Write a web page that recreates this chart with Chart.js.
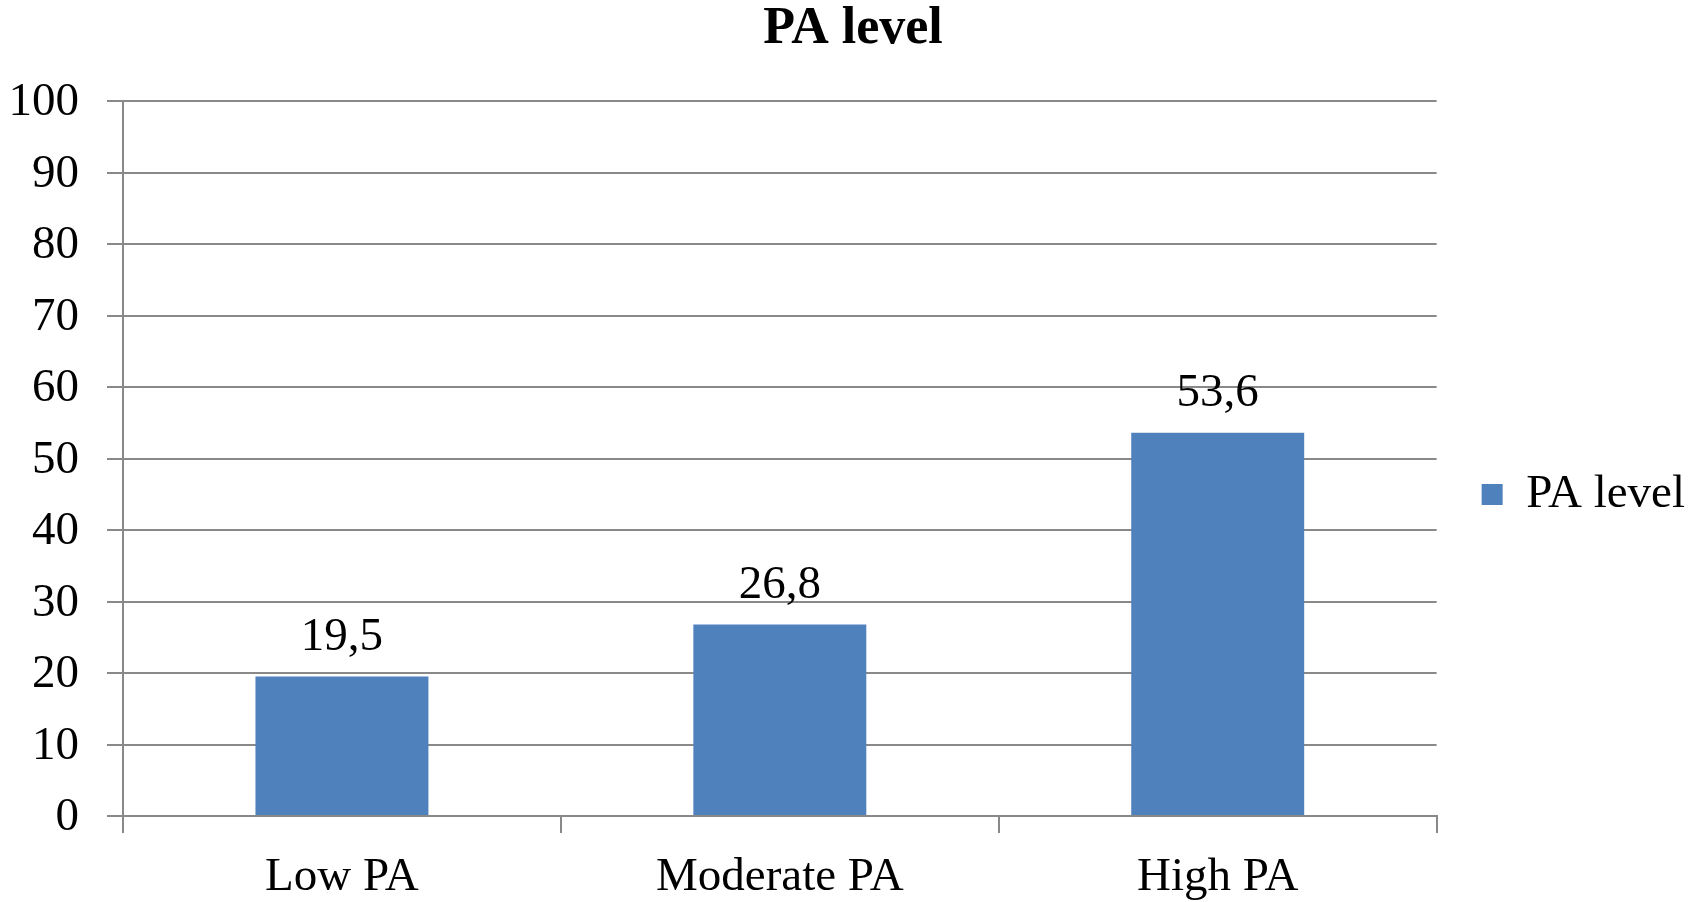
<!DOCTYPE html>
<html>
<head>
<meta charset="utf-8">
<script src="https://cdn.jsdelivr.net/npm/chart.js@4/dist/chart.umd.min.js"></script>
<style>
  html, body { margin: 0; padding: 0; background: #fff; }
  #wrap { width: 1702px; height: 902px; }
</style>
</head>
<body>
<div id="wrap"><canvas id="chart" width="1702" height="902"></canvas></div>
<script>
const categories = ["Low PA", "Moderate PA", "High PA"];
const paLevel = [19.5, 26.8, 53.6];
const seriesName = "PA level";

const FONT = "'Liberation Serif', 'Times New Roman', serif";
const GRID = "#898989";
const TEXT_SIZE = 47;

// value labels above bars, comma as decimal mark
const barValues = {
  id: "barValues",
  afterDatasetsDraw(chart) {
    const ctx = chart.ctx;
    const meta = chart.getDatasetMeta(0);
    ctx.save();
    ctx.font = TEXT_SIZE + "px " + FONT;
    ctx.fillStyle = "#000";
    ctx.textAlign = "center";
    ctx.textBaseline = "middle";
    meta.data.forEach((bar, i) => {
      const txt = String(chart.data.datasets[0].data[i]).replace(".", ",");
      ctx.fillText(txt, bar.x, bar.y - 39);
    });
    ctx.restore();
  }
};

new Chart(document.getElementById("chart"), {
  type: "bar",
  data: {
    labels: categories,
    datasets: [{
      label: seriesName,
      data: paLevel,
      backgroundColor: "#4F81BD",
      barPercentage: 0.395,
      categoryPercentage: 1.0
    }]
  },
  options: {
    responsive: false,
    animation: false,
    layout: { padding: { left: 11, right: 7, top: 0, bottom: 0 } },
    plugins: {
      title: {
        display: true,
        text: "PA level",
        color: "#000",
        font: { family: FONT, size: 52, weight: "bold", lineHeight: 1.0 },
        padding: { top: 4, bottom: 45 }
      },
      legend: {
        position: "right",
        // empty title only pushes the single entry down a little
        title: { display: true, text: "", font: { size: 1 }, padding: { top: 43, bottom: 43 } },
        labels: {
          color: "#000",
          font: { family: FONT, size: TEXT_SIZE },
          boxWidth: 21,
          boxHeight: 21,
          padding: 45
        }
      },
      tooltip: { enabled: false }
    },
    scales: {
      x: {
        afterFit(scale) { scale.height = 86; },
        grid: {
          display: true,
          offset: true,
          drawOnChartArea: false,
          drawTicks: true,
          tickLength: 17,
          color: GRID,
          lineWidth: 2
        },
        border: { display: true, color: GRID, width: 2 },
        ticks: {
          color: "#000",
          font: { family: FONT, size: TEXT_SIZE },
          padding: 16,
          maxRotation: 0
        }
      },
      y: {
        min: 0,
        max: 100,
        afterFit(scale) { scale.width = 112; },
        grid: {
          color: GRID,
          lineWidth: 2,
          drawTicks: true,
          tickLength: 16
        },
        border: { display: true, color: GRID, width: 2 },
        ticks: {
          stepSize: 10,
          color: "#000",
          font: { family: FONT, size: TEXT_SIZE },
          padding: 28,
          labelOffset: 2
        }
      }
    }
  },
  plugins: [barValues]
});
</script>
</body>
</html>
